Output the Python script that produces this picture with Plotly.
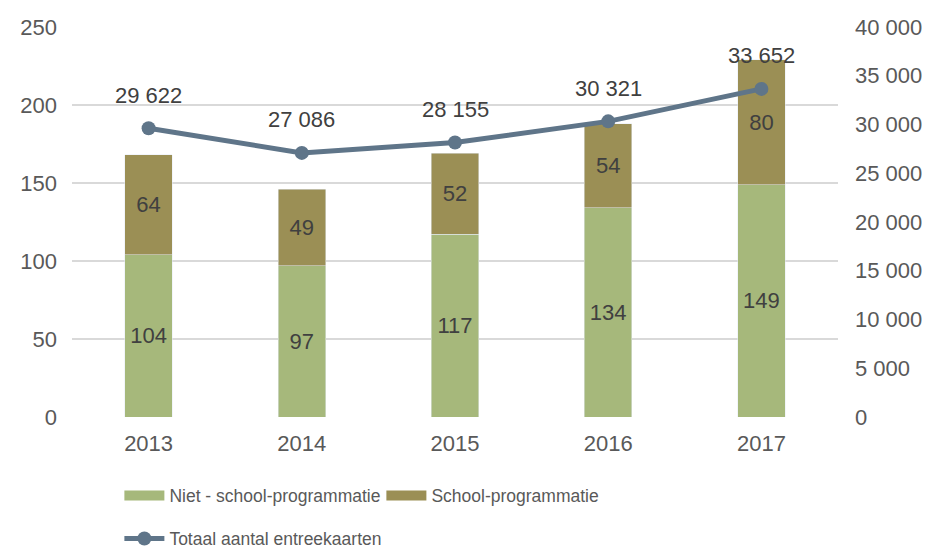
import plotly.graph_objects as go

years = ["2013", "2014", "2015", "2016", "2017"]
niet_school = [104, 97, 117, 134, 149]
school = [64, 49, 52, 54, 80]
totaal = [29622, 27086, 28155, 30321, 33652]

names = ["Niet - school-programmatie", "School-programmatie", "Totaal aantal entreekaarten"]

FONT = "Liberation Sans"
TXT = "#404040"
AX = "#595959"
C_NIET = "#A6B87B"
C_SCHOOL = "#9B8F55"
C_LINE = "#5F7589"

def fmt(v):
    return f"{v:,}".replace(",", " ")

fig = go.Figure()
fig.add_trace(go.Bar(
    x=years, y=niet_school, name=names[0], marker_color=C_NIET, showlegend=False,
    width=0.31, text=[str(v) for v in niet_school], textposition="inside",
    insidetextanchor="middle", textfont=dict(family=FONT, size=22, color=TXT),
))
fig.add_trace(go.Bar(
    x=years, y=school, name=names[1], marker_color=C_SCHOOL, showlegend=False,
    width=0.31, text=[str(v) for v in school], textposition="inside",
    insidetextanchor="middle", textfont=dict(family=FONT, size=22, color=TXT),
))
fig.add_trace(go.Scatter(
    x=years, y=totaal, name=names[2], yaxis="y2", mode="lines+markers",
    line=dict(color=C_LINE, width=5), marker=dict(size=14, color=C_LINE),
    cliponaxis=False, legend="legend2",
))
# legend proxies for the bar series (wide swatches)
for nm, col in [(names[0], C_NIET), (names[1], C_SCHOOL)]:
    fig.add_trace(go.Scatter(x=[years[0]], y=[None], name=nm, mode="lines",
                             line=dict(color=col, width=16), legend="legend"))

# value labels above the line points (x given as category index)
for i, v in enumerate(totaal):
    fig.add_annotation(x=i, y=v, xref="x", yref="y2", text=fmt(v), showarrow=False,
                       yshift=33, font=dict(family=FONT, size=22, color=TXT))

fig.update_layout(
    width=936, height=550, barmode="stack",
    paper_bgcolor="white", plot_bgcolor="white",
    margin=dict(l=64, r=106, t=19, b=141),
    font=dict(family=FONT, size=22, color=AX),
    separators=", ",
    xaxis=dict(type="category", range=[-0.5, len(years) - 0.5], autorange=False,
               showgrid=False, showline=False, ticks="",
               tickfont=dict(size=22, color=AX), ticklabelstandoff=11),
    yaxis=dict(range=[0, 250], dtick=50, showgrid=True, gridcolor="#D9D9D9", gridwidth=1.5,
               zeroline=False, showline=False, tickfont=dict(size=22, color=AX),
               ticklabelstandoff=14, automargin=False),
    yaxis2=dict(range=[0, 40000], dtick=5000, overlaying="y", side="right", showgrid=False,
                zeroline=False, showline=False, tickformat=",d", tickfont=dict(size=22, color=AX),
                ticklabelstandoff=16, automargin=False),
    legend=dict(orientation="h", xref="container", yref="container", x=0.119, y=0.146,
                xanchor="left", yanchor="top", font=dict(family=FONT, size=17.5, color=AX),
                entrywidth=207, entrywidthmode="pixels", traceorder="normal", itemwidth=40),
    legend2=dict(orientation="h", xref="container", yref="container", x=0.119, y=0.068,
                 xanchor="left", yanchor="top", font=dict(family=FONT, size=17.5, color=AX),
                 itemwidth=40),
)

fig.write_html("out.html")
